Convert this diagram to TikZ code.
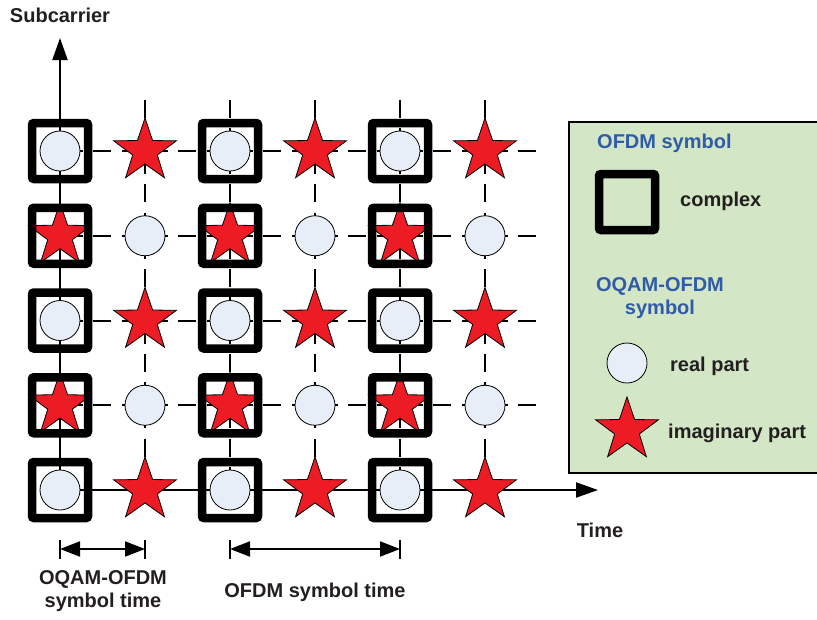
\documentclass[tikz,border=0pt]{standalone}
\usepackage{fontspec}
\setmainfont{Liberation Sans}
\usetikzlibrary{shapes.geometric,arrows.meta}
\definecolor{starRed}{HTML}{ED1C24}
\definecolor{realFill}{HTML}{E8EEF7}
\definecolor{legendGreen}{HTML}{D3E6C5}
\definecolor{legendBlue}{HTML}{2F5BA8}
\definecolor{textGray}{HTML}{231F20}

\begin{document}
\begin{tikzpicture}
[x=1pt,y=-1pt,%
  squareDecorate/.style={shape=rectangle,minimum size=56pt,inner sep=0pt,draw,line width=8.5pt,rounded corners=2pt},%
  realDecorate/.style={shape=circle,minimum size=40pt,inner sep=0pt,draw,line width=0.8pt,fill=realFill},%
  imagDecorate/.style={shape=star,star points=5,star point ratio=2.55,minimum size=66pt,inner sep=0pt,draw,line width=0.8pt,fill=starRed},%
  hDashDecorate/.style={line width=2pt,dash pattern=on 18pt off 10.33pt,dash phase=23.17pt},%
  vDashDecorate/.style={line width=2pt,dash pattern=on 18pt off 10.25pt},%
  axisDecorate/.style={line width=2pt,-{Triangle[length=22pt,width=15pt]}},%
  timeDecorate/.style={line width=2pt,{Triangle[length=20pt,width=15pt]}-{Triangle[length=20pt,width=15pt]}},%
  tickDecorate/.style={line width=1.6pt},%
  labelDecorate/.style={font=\fontsize{20}{23}\selectfont\bfseries,text=textGray,inner sep=0pt,align=center}]
\clip (0,0) rectangle (817,619);
%% grid positions
\foreach \c in {0,...,5}
  \foreach \r in {0,...,4}
  {
    \coordinate (g-\c-\r) at ({60+85*\c},{151+84.75*\r});
  }
%% dashed grid lines
\foreach \r in {0,...,3}
{
  \coordinate (hend-\r) at (537,{151+84.75*\r});
  \draw[hDashDecorate] (g-0-\r) -- (hend-\r);
}
\foreach \c in {1,...,5}
{
  \coordinate (vtop-\c) at ({60+85*\c},99.6);
  \draw[vDashDecorate] (vtop-\c) -- (g-\c-4);
}
%% axes
\coordinate (subTip) at (60,38);
\coordinate (timeTip) at (598,490);
\draw[axisDecorate] (g-0-4) -- (subTip);
\draw[axisDecorate] (g-0-4) -- (timeTip);
\node (subLabel) at (60,15) [labelDecorate] {Subcarrier};
\node (timeLabel) at (600,530) [labelDecorate] {Time};
%% real and imaginary symbols
\foreach \c in {0,...,5}
  \foreach \r in {0,...,4}
  {
    \pgfmathtruncatemacro{\parity}{mod(\c+\r,2)}
    \ifnum\parity=0
      \node (s-\c-\r) at (g-\c-\r) [realDecorate] {};
    \else
      \node (s-\c-\r) at (g-\c-\r) [imagDecorate] {};
    \fi
  }
%% OFDM squares
\foreach \c in {0,2,4}
  \foreach \r in {0,...,4}
  {
    \node (sq-\c-\r) at (g-\c-\r) [squareDecorate] {};
  }
%% symbol times
\coordinate (oqamStart) at (60,549);
\coordinate (oqamEnd) at (145,549);
\coordinate (ofdmStart) at (230,549);
\coordinate (ofdmEnd) at (400,549);
\draw[timeDecorate] (oqamStart) -- (oqamEnd);
\draw[timeDecorate] (ofdmStart) -- (ofdmEnd);
\foreach \p in {oqamStart,oqamEnd,ofdmStart,ofdmEnd}
{
  \draw[tickDecorate] ([yshift=9pt]\p) -- ([yshift=-10pt]\p);
}
\node (oqamLabel) at (103,591) [labelDecorate] {OQAM-OFDM\\symbol time};
\node (ofdmLabel) at (315,592) [labelDecorate] {OFDM symbol time};
%% legend
\draw[line width=1.2pt,fill=legendGreen] (569,122) rectangle (830,473);
\node (legOfdm) at (597,143) [labelDecorate,anchor=west,text=legendBlue] {OFDM symbol};
\node (legSquare) at (627,202) [squareDecorate] {};
\node (legComplex) at (680,201) [labelDecorate,anchor=west] {complex};
\node (legOqam) at (660,298) [labelDecorate,text=legendBlue] {OQAM-OFDM\\symbol};
\node (legReal) at (627,363) [realDecorate] {};
\node (legRealText) at (670,366) [labelDecorate,anchor=west] {real part};
\node (legImag) at (627,430) [imagDecorate] {};
\node (legImagText) at (668,433) [labelDecorate,anchor=west] {imaginary part};
\end{tikzpicture}
\end{document}
